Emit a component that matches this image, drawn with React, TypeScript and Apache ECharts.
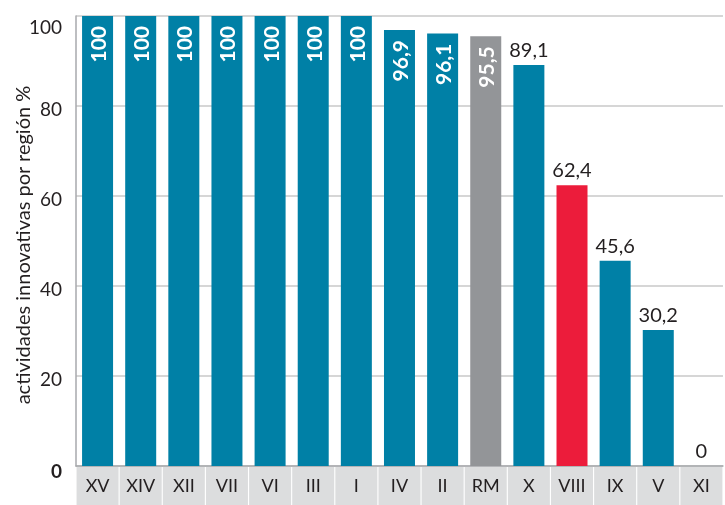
import React, { useEffect, useRef } from "react";
import * as echarts from "echarts";

const categories = ["XV", "XIV", "XII", "VII", "VI", "III", "I", "IV", "II", "RM", "X", "VIII", "IX", "V", "XI"];
const values = [100, 100, 100, 100, 100, 100, 100, 96.9, 96.1, 95.5, 89.1, 62.4, 45.6, 30.2, 0];
const yTicks = [0, 20, 40, 60, 80, 100];
const axisTitle = "actividades innovativas por región %";
const grayCategory = "RM";
const redCategory = "VIII";

const BLUE = "#0080A6";
const GRAY = "#939598";
const RED = "#EC1C3B";
const FONT = "Lato, 'Open Sans', sans-serif";

const fmt = (v: number) => (Number.isInteger(v) ? String(v) : v.toFixed(1).replace(".", ","));

export default function App() {
  const ref = useRef<HTMLDivElement>(null);
  useEffect(() => {
    if (!ref.current) return;
    const chart = echarts.init(ref.current, undefined, { renderer: "svg" });
    const data = values.map((v, i) => {
      const c = categories[i];
      const color = c === grayCategory ? GRAY : c === redCategory ? RED : BLUE;
      const inside = v >= 95;
      return {
        value: v,
        itemStyle: { color },
        label: inside
          ? {
              show: true,
              position: "insideTop",
              distance: 10,
              rotate: 90,
              align: "right",
              verticalAlign: "middle",
              color: "#ffffff",
              fontWeight: "bold",
              fontSize: 21,
              fontFamily: FONT,
              formatter: () => fmt(v),
            }
          : {
              show: true,
              position: "top",
              distance: 6,
              color: "#231f20",
              fontSize: 20,
              fontFamily: FONT,
              formatter: () => fmt(v),
            },
      };
    });
    const tickLabel = (v: number) => {
      if (v === yTicks[0]) return "{z|" + v + "}";
      if (v === yTicks[yTicks.length - 1]) return "{t|" + v + "}";
      return "{n|" + v + "}";
    };
    const base = { fontSize: 19, fontFamily: FONT, color: "#231f20" };
    chart.setOption({
      animation: false,
      grid: { left: 76, right: -10, top: 16, bottom: 38, containLabel: false },
      xAxis: {
        type: "category",
        data: categories,
        axisLine: { show: true, lineStyle: { color: "#a7a9ac", width: 1.5 } },
        axisTick: { show: false },
        axisLabel: {
          interval: 0,
          margin: 1,
          width: 42,
          height: 38,
          lineHeight: 36,
          align: "center",
          backgroundColor: "#DCDDDE",
          color: "#231f20",
          fontSize: 18,
          fontFamily: FONT,
        },
      },
      yAxis: {
        type: "value",
        min: 0,
        max: 100,
        interval: 20,
        axisLine: { show: true, lineStyle: { color: "#a7a9ac", width: 1.5 } },
        axisTick: { show: false },
        splitLine: { show: true, lineStyle: { color: "#c8c8c8", width: 1.5 } },
        axisLabel: {
          margin: 14,
          color: "#231f20",
          fontSize: 19,
          fontFamily: FONT,
          formatter: tickLabel,
          rich: {
            n: { ...base, padding: [5, 0, 0, 0] },
            t: { ...base, padding: [21, 0, 0, 0] },
            z: { ...base, fontWeight: "bold", padding: [8, 0, 0, 0] },
          },
        },
      },
      graphic: [
        {
          type: "text",
          x: 22,
          y: 245,
          rotation: Math.PI / 2,
          style: {
            text: axisTitle,
            fontSize: 20,
            fontFamily: FONT,
            fill: "#231f20",
            align: "center",
            verticalAlign: "middle",
          },
        },
      ],
      series: [
        {
          type: "bar",
          data,
          barWidth: 31,
        },
      ],
    });
    return () => chart.dispose();
  }, []);
  return <div ref={ref} style={{ position: "fixed", left: 0, top: 0, width: 725, height: 505 }} />;
}
